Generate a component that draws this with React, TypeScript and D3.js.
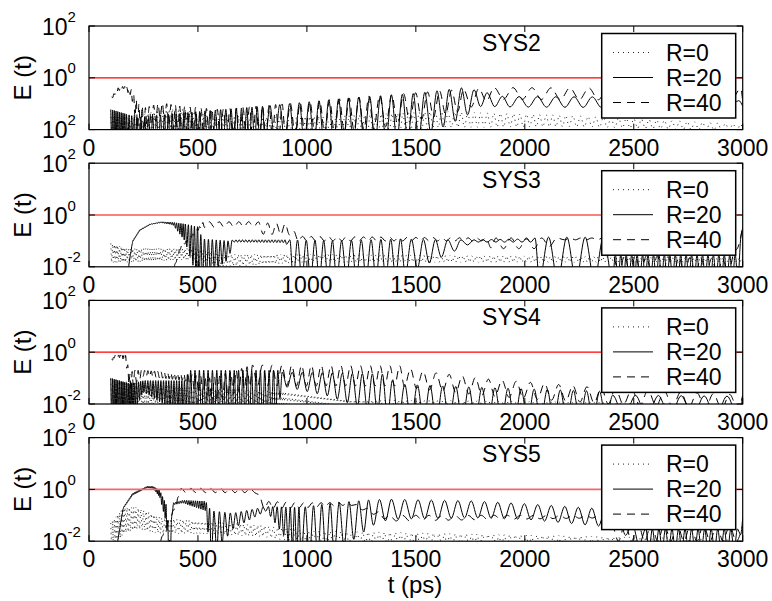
import React from 'react';
import * as d3 from 'd3';

// ---- data ----
// keyframes: [t (ps), upper envelope E, lower envelope E, oscillation period (ps)]
const panelNames = ['SYS2', 'SYS3', 'SYS4', 'SYS5'];
const seriesNames = ['R=0', 'R=20', 'R=40'];
const xTicks = [0, 500, 1000, 1500, 2000, 2500, 3000];
const yTicks = [0.01, 1, 100];
const yTickExpDefault = ['-2', '0', '2'];
const yTickExpFirst = ['2', '0', '2'];
const threshold = 1;

const sys2R0 = [[100,0.03,0.008,12],[250,0.04,0.006,14],[400,0.07,0.012,16],[520,0.04,0.005,18],[800,0.03,0.005,20],[1200,0.035,0.006,25],[1600,0.05,0.012,30],[2200,0.035,0.013,35],[3000,0.016,0.009,40]];
const sys2R20 = [[100,0.06,0.003,8],[170,0.04,0.003,12],[220,0.03,0.002,18],[500,0.05,0.002,24],[800,0.08,0.003,45],[1200,0.17,0.003,50],[1500,0.25,0.004,56],[1720,0.42,0.03,60],[1800,0.3,0.08,70],[1900,0.19,0.075,84],[2500,0.18,0.07,84],[3000,0.13,0.08,84]];
const sys2R40 = [[104,0.18,0.15,10],[130,0.4,0.3,10],[160,0.48,0.38,10],[195,0.35,0.2,12],[225,0.1,0.005,15],[260,0.07,0.01,20],[330,0.11,0.03,20],[420,0.08,0.005,25],[600,0.06,0.004,30],[900,0.1,0.005,45],[1300,0.2,0.01,55],[1700,0.35,0.05,70],[1850,0.42,0.15,87],[3000,0.38,0.13,87]];

const sys3R0 = [[100,0.08,0.015,8],[180,0.05,0.015,10],[500,0.05,0.02,12],[600,0.03,0.01,15],[1000,0.03,0.015,20],[3000,0.022,0.015,25]];
const sys3R20 = [[150,0.002,0.001,20],[181,0.01,0.009,6],[200,0.1,0.09,6],[233,0.27,0.25,8],[280,0.45,0.42,8],[330,0.55,0.5,8],[385,0.52,0.42,10],[440,0.45,0.1,14],[500,0.35,0.003,16],[520,0.12,0.003,18],[640,0.1,0.02,20],[661,0.11,0.09,15],[906,0.11,0.085,30],[930,0.11,0.003,40],[1120,0.1,0.003,45],[1430,0.12,0.004,55],[1600,0.11,0.02,60],[1765,0.11,0.09,40],[2040,0.12,0.09,40],[2054,0.14,0.003,84],[2390,0.14,0.003,84],[2400,0.03,0.003,25],[2980,0.03,0.003,25],[3000,0.4,0.3,20]];
const sys3R40 = [[380,0.003,0.002,20],[390,0.01,0.008,10],[420,0.06,0.05,10],[500,0.3,0.25,15],[525,0.55,0.33,45],[775,0.55,0.35,45],[800,0.5,0.18,40],[926,0.45,0.17,40],[950,0.15,0.1,40],[1800,0.13,0.1,45],[1850,0.13,0.05,70],[2100,0.13,0.05,70],[2150,0.13,0.11,50],[2390,0.13,0.11,50],[2400,0.03,0.005,50],[2950,0.02,0.005,50],[3000,0.35,0.3,20]];

const sys4R0 = [[100,0.09,0.008,8],[300,0.05,0.01,10],[900,0.03,0.008,15],[1200,0.015,0.004,20],[3000,0.01,0.004,25]];
const sys4R20 = [[100,0.1,0.003,8],[190,0.06,0.003,10],[250,0.08,0.03,12],[440,0.08,0.003,15],[460,0.2,0.002,20],[870,0.2,0.002,20],[880,0.17,0.05,46],[1100,0.16,0.02,46],[1380,0.14,0.003,55],[1400,0.06,0.002,58],[1610,0.05,0.002,60],[2390,0.03,0.002,62],[2400,0.022,0.003,105],[3000,0.02,0.003,105]];
const sys4R40 = [[104,0.52,0.45,8],[122,0.8,0.7,8],[168,0.75,0.5,10],[190,0.12,0.02,10],[200,0.2,0.05,15],[250,0.2,0.12,15],[440,0.15,0.08,20],[560,0.1,0.01,25],[750,0.32,0.05,45],[1430,0.3,0.05,55],[1500,0.2,0.04,60],[1840,0.09,0.02,65],[2390,0.04,0.01,75],[3000,0.022,0.006,100]];

const sys5R0 = [[100,0.05,0.005,8],[160,0.2,0.02,10],[220,0.2,0.03,12],[330,0.08,0.02,14],[500,0.06,0.02,16],[800,0.04,0.015,20],[1000,0.025,0.008,25],[3000,0.012,0.004,30]];
const sys5R20 = [[125,0.003,0.002,10],[131,0.01,0.009,5],[157,0.2,0.18,6],[200,0.7,0.6,6],[265,1.3,1.15,6],[295,1.3,1.1,6],[325,0.9,0.5,8],[355,0.25,0.05,8],[370,0.01,0.001,10],[385,0.3,0.25,10],[430,0.38,0.3,10],[535,0.35,0.15,15],[560,0.15,0.002,25],[660,0.12,0.03,25],[815,0.22,0.15,20],[970,0.2,0.002,38],[1120,0.3,0.003,45],[1300,0.4,0.04,55],[1380,0.42,0.07,61],[1760,0.36,0.08,61],[2000,0.28,0.07,62],[2390,0.17,0.035,62],[2450,0.07,0.02,62],[2550,0.03,0.005,30],[2980,0.03,0.004,30],[3000,0.08,0.07,20]];
const sys5R40 = [[320,0.003,0.002,20],[330,0.012,0.011,10],[400,0.3,0.25,15],[420,1.1,0.75,45],[760,1.1,0.75,45],[800,0.35,0.18,40],[1000,0.3,0.2,40],[1200,0.32,0.25,50],[1380,0.1,0.06,60],[2390,0.1,0.08,60],[2400,0.05,0.01,60],[3000,0.04,0.01,60]];

const panelSeries = [
  [sys2R0, sys2R20, sys2R40],
  [sys3R0, sys3R20, sys3R40],
  [sys4R0, sys4R20, sys4R40],
  [sys5R0, sys5R20, sys5R40],
];

// ---- layout / style ----
const W = 772, H = 601;
const left = 89, right = 742.7;
const panelTop0 = 26, panelStep = 137.2, panelH = 103.6;
const FONT = 'Liberation Sans, Arial, Helvetica, sans-serif';
const styles = [
  { dash: '1 4', width: 1, color: '#222' },
  { dash: null, width: 1, color: '#000' },
  { dash: '8 6', width: 1, color: '#000' },
];

// build the oscillation between the read upper/lower envelopes
function expand(kf: number[][]): [number, number][] {
  const pts: [number, number][] = [];
  const tEnd = kf[kf.length - 1][0];
  let t = kf[0][0];
  let up = true;
  let i = 0;
  while (t < tEnd) {
    while (i < kf.length - 2 && t >= kf[i + 1][0]) i++;
    const [t0, h0, l0, p] = kf[i];
    const [t1, h1, l1] = kf[i + 1];
    const f = (t - t0) / (t1 - t0);
    const hi = Math.exp(Math.log(h0) + (Math.log(h1) - Math.log(h0)) * f);
    const lo = Math.exp(Math.log(l0) + (Math.log(l1) - Math.log(l0)) * f);
    pts.push([t, up ? hi : lo]);
    up = !up;
    t += p / 2;
  }
  const last = kf[kf.length - 1];
  pts.push([last[0], up ? last[1] : last[2]]);
  return pts;
}

function Panel({ idx }: { idx: number }) {
  const top = panelTop0 + idx * panelStep;
  const bottom = top + panelH;
  const x = d3.scaleLinear().domain([0, 3000]).range([left, right]);
  const y = d3.scaleLog().domain([0.01, 100]).range([bottom, top]);
  const line = d3.line<[number, number]>()
    .x(d => x(d[0]))
    .y(d => y(Math.max(d[1], 1e-5)))
    .curve(d3.curveMonotoneX);
  const exps = idx === 0 ? yTickExpFirst : yTickExpDefault;
  const clipId = `clip${idx}`;
  const redColor = idx === 3 ? '#f06a6a' : '#ff0000';
  const redWidth = idx === 3 ? 1.8 : 1.2;
  const lx = 601.7, ly = top + 7.5, lw = 134, lh = 84.5;
  return (
    <g>
      <defs>
        <clipPath id={clipId}>
          <rect x={left} y={top} width={right - left} height={panelH} />
        </clipPath>
      </defs>
      <g clipPath={`url(#${clipId})`}>
        {panelSeries[idx].map((kf, s) => (
          <path key={s} d={line(expand(kf)) || ''} fill="none"
            stroke={styles[s].color} strokeWidth={styles[s].width}
            strokeDasharray={styles[s].dash || undefined} />
        ))}
      </g>
      <line x1={left} x2={right} y1={y(threshold)} y2={y(threshold)} stroke={redColor} strokeWidth={redWidth} />
      {/* ticks */}
      {xTicks.map(t => (
        <g key={t}>
          <line x1={x(t)} x2={x(t)} y1={bottom} y2={bottom - 6} stroke="#000" strokeWidth={1} />
          <line x1={x(t)} x2={x(t)} y1={top} y2={top + 6} stroke="#000" strokeWidth={1} />
          <text x={x(t)} y={bottom + 26} textAnchor="middle" fontSize={23} fontFamily={FONT}>{t}</text>
        </g>
      ))}
      {yTicks.map((v, k) => (
        <g key={v}>
          <line x1={left} x2={left + 6} y1={y(v)} y2={y(v)} stroke="#000" strokeWidth={1} />
          <line x1={right} x2={right - 6} y1={y(v)} y2={y(v)} stroke="#000" strokeWidth={1} />
          <text x={42} y={y(v) + 8.5} fontSize={23} fontFamily={FONT}>
            10<tspan dy={-13} fontSize={15}>{exps[k]}</tspan>
          </text>
        </g>
      ))}
      <rect x={left} y={top} width={right - left} height={panelH} fill="none" stroke="#000" strokeWidth={1.2} />
      <text transform={`translate(31,${(top + bottom) / 2}) rotate(-90)`} textAnchor="middle" fontSize={24} fontFamily={FONT}>E (t)</text>
      <text x={511.5} y={top + 24.7} textAnchor="middle" fontSize={23} fontFamily={FONT}>{panelNames[idx]}</text>
      {/* legend */}
      <rect x={lx} y={ly} width={lw} height={lh} fill="#fff" stroke="#000" strokeWidth={1.5} />
      {seriesNames.map((n, s) => (
        <g key={n}>
          <line x1={613} x2={653} y1={ly + 19 + s * 25} y2={ly + 19 + s * 25}
            stroke={styles[s].color} strokeWidth={styles[s].width}
            strokeDasharray={styles[s].dash || undefined} />
          <text x={666} y={ly + 27 + s * 25} fontSize={23} fontFamily={FONT}>{n}</text>
        </g>
      ))}
    </g>
  );
}

export default function App() {
  return (
    <svg width={W} height={H} style={{ position: 'absolute', left: 0, top: 0, background: '#fff' }}>
      <rect x={0} y={0} width={W} height={H} fill="#fff" />
      {panelNames.map((_, i) => <Panel key={i} idx={i} />)}
      <text x={415} y={593} textAnchor="middle" fontSize={24} fontFamily={FONT}>t (ps)</text>
    </svg>
  );
}
